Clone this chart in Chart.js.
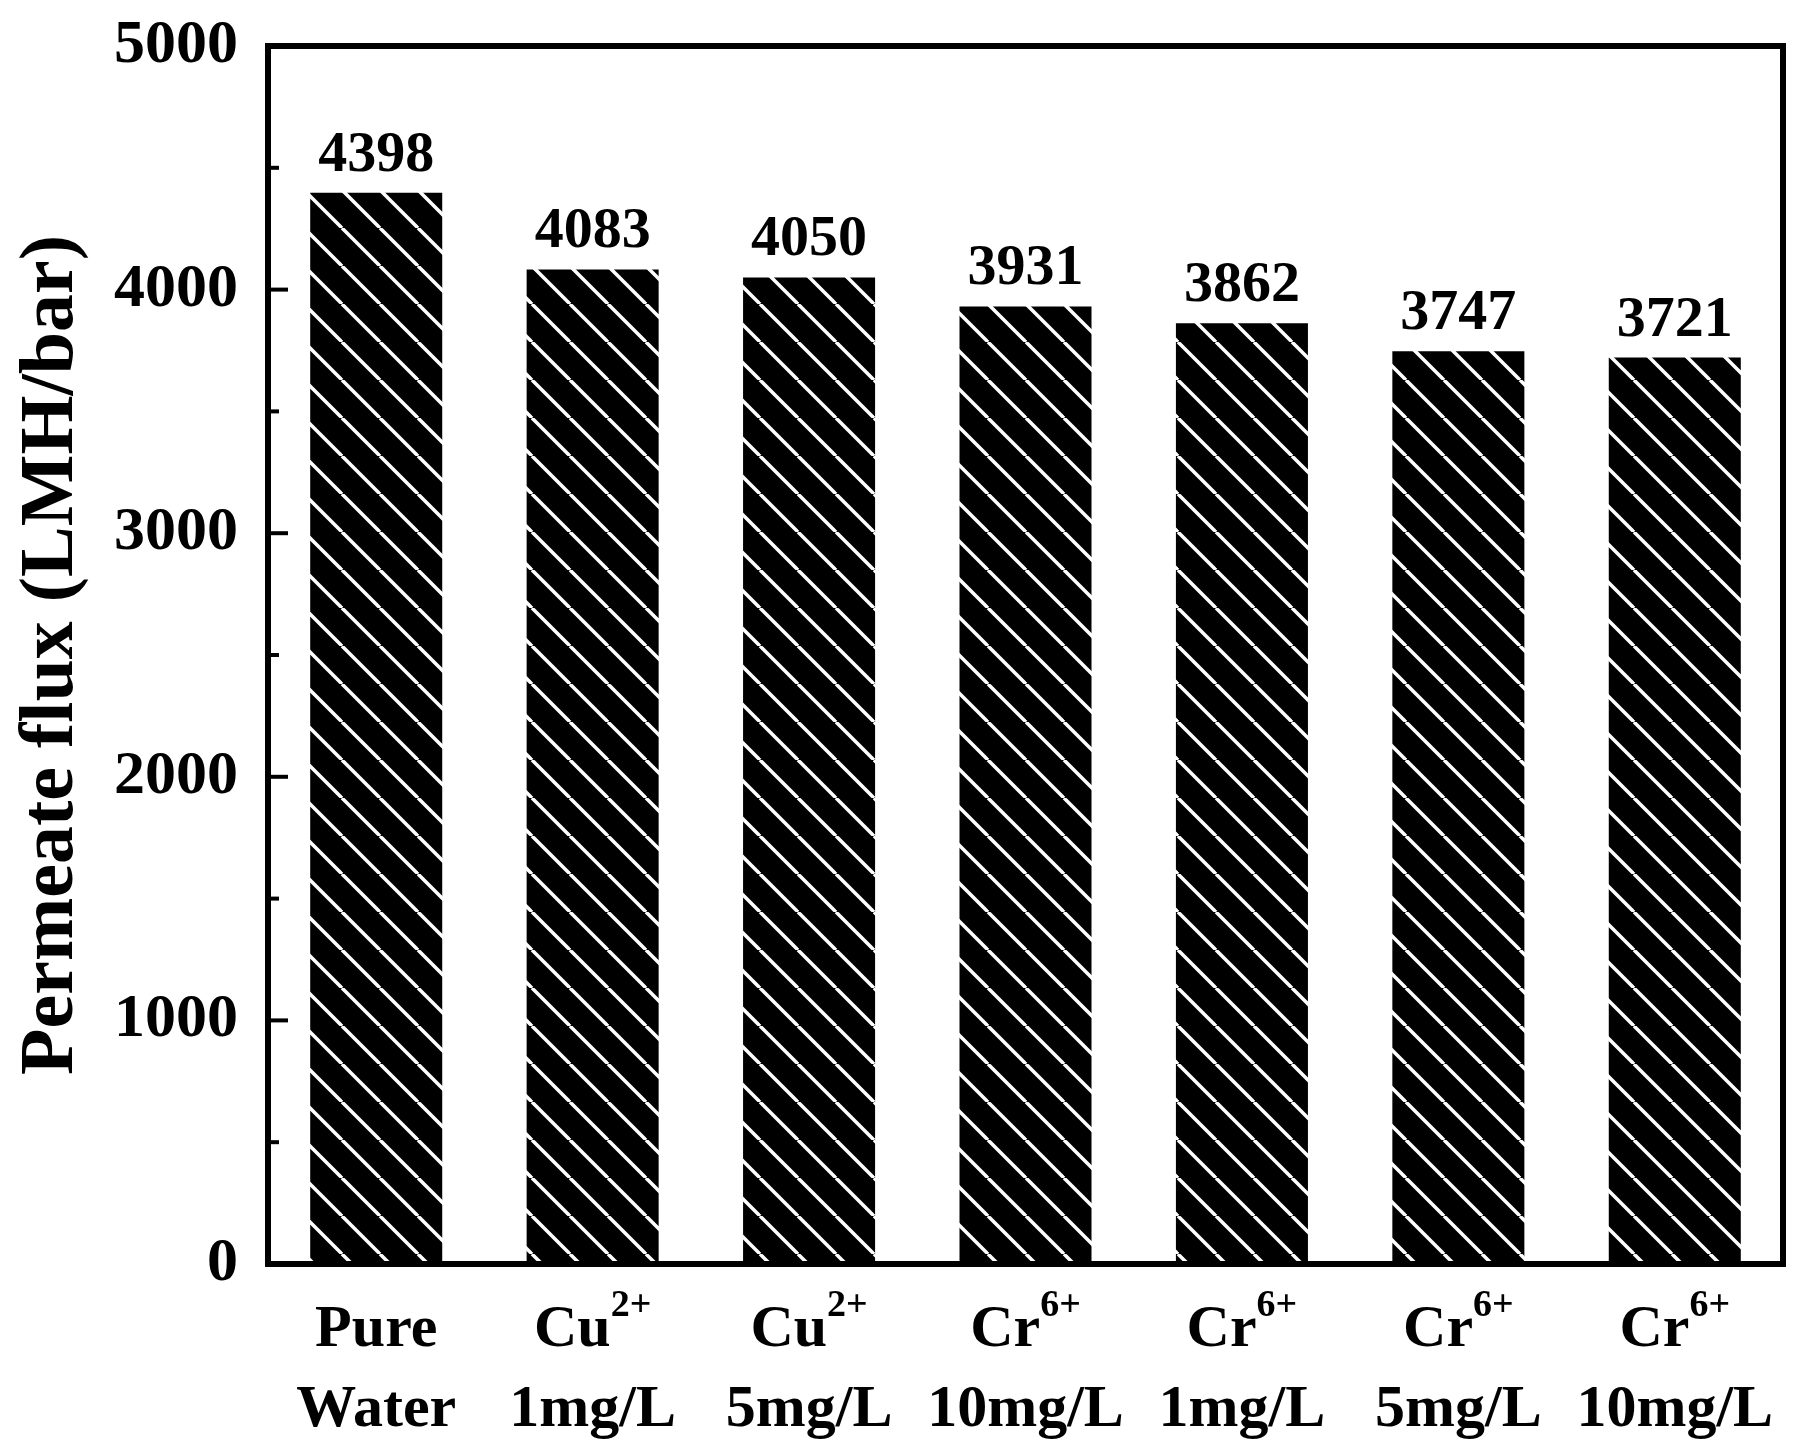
<!DOCTYPE html>
<html>
<head>
<meta charset="utf-8">
<script src="https://cdn.jsdelivr.net/npm/chart.js@4"></script>
<style>
  html, body { margin: 0; padding: 0; background: #fff; }
  #wrap { width: 1815px; height: 1454px; }
</style>
</head>
<body>
<div id="wrap"><canvas id="c" width="1815" height="1454"></canvas></div>
<script>
const categories = ['Pure Water', 'Cu2+ 1mg/L', 'Cu2+ 5mg/L', 'Cr6+ 10mg/L', 'Cr6+ 1mg/L', 'Cr6+ 5mg/L', 'Cr6+ 10mg/L'];
const labelMain = ['Pure', 'Cu', 'Cu', 'Cr', 'Cr', 'Cr', 'Cr'];
const labelSup = ['', '2+', '2+', '6+', '6+', '6+', '6+'];
const labelLine2 = ['Water', '1mg/L', '5mg/L', '10mg/L', '1mg/L', '5mg/L', '10mg/L'];
const fluxValues = [4398, 4083, 4050, 3931, 3862, 3747, 3721];
const yTicks = [0, 1000, 2000, 3000, 4000, 5000];
const yMinorTicks = [500, 1500, 2500, 3500, 4500];

const FONT = '"Liberation Serif", "Times New Roman", serif';

// diagonal white-on-black hatch
function makeHatch() {
  const s = 38;
  const p = document.createElement('canvas');
  p.width = s; p.height = s;
  const g = p.getContext('2d');
  g.fillStyle = '#000';
  g.fillRect(0, 0, s, s);
  g.strokeStyle = '#fff';
  g.lineWidth = 3.5;
  for (const off of [-s, 0, s]) {
    g.beginPath();
    g.moveTo(off, 0);
    g.lineTo(off + s, s);
    g.stroke();
  }
  return g.createPattern(p, 'repeat');
}

const decor = {
  id: 'decor',
  afterDatasetsDraw(chart) {
    const { ctx, chartArea: a, scales: { x, y } } = chart;
    ctx.save();
    // value labels
    ctx.fillStyle = '#000';
    ctx.font = 'bold 58px ' + FONT;
    ctx.textAlign = 'center';
    ctx.textBaseline = 'alphabetic';
    fluxValues.forEach((v, i) => {
      ctx.fillText(String(v), x.getPixelForValue(i), y.getPixelForValue(v) - 22);
    });
    // frame
    ctx.strokeStyle = '#000';
    ctx.lineWidth = 6;
    ctx.strokeRect(a.left, a.top, a.right - a.left, a.bottom - a.top);
    // ticks inward
    ctx.lineWidth = 4;
    yTicks.forEach(t => {
      const py = y.getPixelForValue(t);
      ctx.beginPath(); ctx.moveTo(a.left, py); ctx.lineTo(a.left + 20, py); ctx.stroke();
    });
    yMinorTicks.forEach(t => {
      const py = y.getPixelForValue(t);
      ctx.beginPath(); ctx.moveTo(a.left, py); ctx.lineTo(a.left + 11, py); ctx.stroke();
    });
    // y tick labels
    ctx.font = 'bold 62px ' + FONT;
    ctx.textAlign = 'right';
    ctx.textBaseline = 'middle';
    yTicks.forEach(t => ctx.fillText(String(t), a.left - 30, y.getPixelForValue(t)));
    // x labels with superscripts
    categories.forEach((c, i) => {
      const cx = x.getPixelForValue(i);
      ctx.textBaseline = 'alphabetic';
      ctx.font = 'bold 60px ' + FONT;
      const mw = ctx.measureText(labelMain[i]).width;
      ctx.font = 'bold 38px ' + FONT;
      const sw = labelSup[i] ? ctx.measureText(labelSup[i]).width : 0;
      const start = cx - (mw + sw) / 2;
      ctx.textAlign = 'left';
      ctx.font = 'bold 60px ' + FONT;
      ctx.fillText(labelMain[i], start, a.bottom + 82);
      if (labelSup[i]) {
        ctx.font = 'bold 38px ' + FONT;
        ctx.fillText(labelSup[i], start + mw, a.bottom + 52);
      }
      ctx.font = 'bold 60px ' + FONT;
      ctx.textAlign = 'center';
      ctx.fillText(labelLine2[i], cx, a.bottom + 162);
    });
    // y title
    ctx.translate(52, (a.top + a.bottom) / 2);
    ctx.rotate(-Math.PI / 2);
    ctx.font = 'bold 76px ' + FONT;
    ctx.textAlign = 'center';
    ctx.textBaseline = 'middle';
    ctx.fillText('Permeate flux (LMH/bar)', 0, 0);
    ctx.restore();
  }
};

new Chart(document.getElementById('c'), {
  type: 'bar',
  data: {
    labels: categories,
    datasets: [{
      data: fluxValues,
      backgroundColor: makeHatch(),
      borderWidth: 0,
      barPercentage: 0.61,
      categoryPercentage: 1
    }]
  },
  options: {
    responsive: false,
    animation: false,
    devicePixelRatio: 1,
    layout: { padding: { left: 268, top: 46, right: 32, bottom: 190 } },
    plugins: { legend: { display: false }, tooltip: { enabled: false } },
    scales: {
      x: { display: false },
      y: { display: false, min: 0, max: 5000 }
    }
  },
  plugins: [decor]
});
</script>
</body>
</html>
